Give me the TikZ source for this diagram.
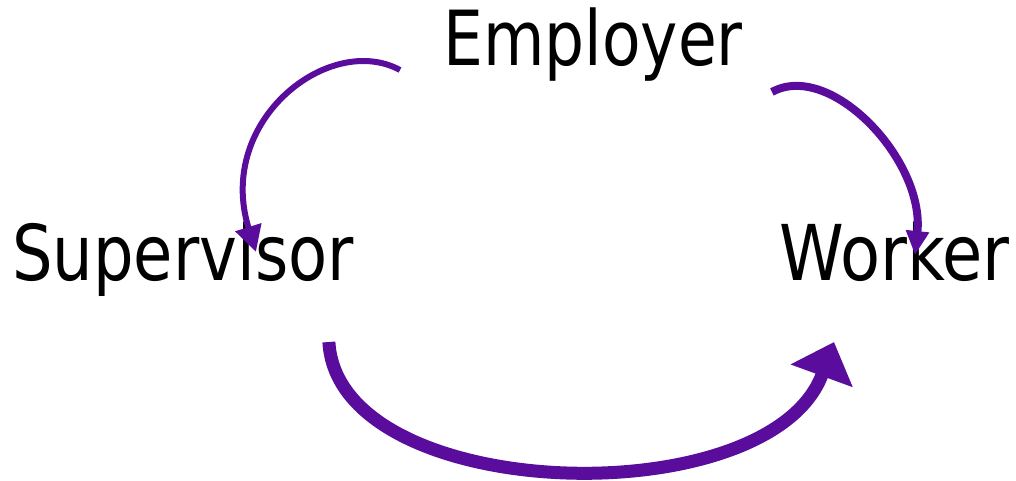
\documentclass[tikz,border=0pt]{standalone}
\usepackage{fontspec}
\setmainfont{DejaVu Sans}
\usetikzlibrary{arrows.meta,calc}
\definecolor{arrowpurple}{HTML}{5A0C9C}
\tikzset{
  lbl/.style={inner sep=0pt, anchor=base west, font=\fontsize{77}{90}\selectfont},
  curvedarrow/.style={draw=arrowpurple, line cap=butt}
}
\begin{document}
\begin{tikzpicture}[x=1pt,y=-1pt]
\useasboundingbox (0,0) rectangle (1016,480);
\node[lbl] (sup) at (12,280) {\scalebox{0.83}[1]{Supervisor}};
\node[lbl] (wor) at (779,280) {\scalebox{0.85}[1]{Worker}};
\node[lbl, font=\fontsize{76}{88}\selectfont] (emp) at (443,65) {\scalebox{0.83}[1]{Employer}};
\coordinate (e1) at ($(emp.base west)+(-43,5)$);
\coordinate (e2) at ($(emp.base east)+(29,27)$);
\coordinate (s1) at ($(sup.base east)+(-25,62)$);
\coordinate (s2) at ($(sup.base west)+(244,-28)$);
\coordinate (w1) at ($(wor.base west)+(136,-25)$);
\coordinate (w2) at ($(wor.base west)+(55,62)$);
\draw[curvedarrow, line width=6pt, -{Triangle[length=26pt,width=26pt]}]
  (e1) .. controls (330,32) and (215,120) .. (s2);
\draw[curvedarrow, line width=8pt, -{Triangle[length=24pt,width=22pt]}]
  (e2) .. controls (830,60) and (925,160) .. (w1);
\draw[curvedarrow, line width=13pt, -{Triangle[length=36pt,width=64pt]}]
  (s1) .. controls (338,505) and (770,517) .. (w2);
\end{tikzpicture}
\end{document}
